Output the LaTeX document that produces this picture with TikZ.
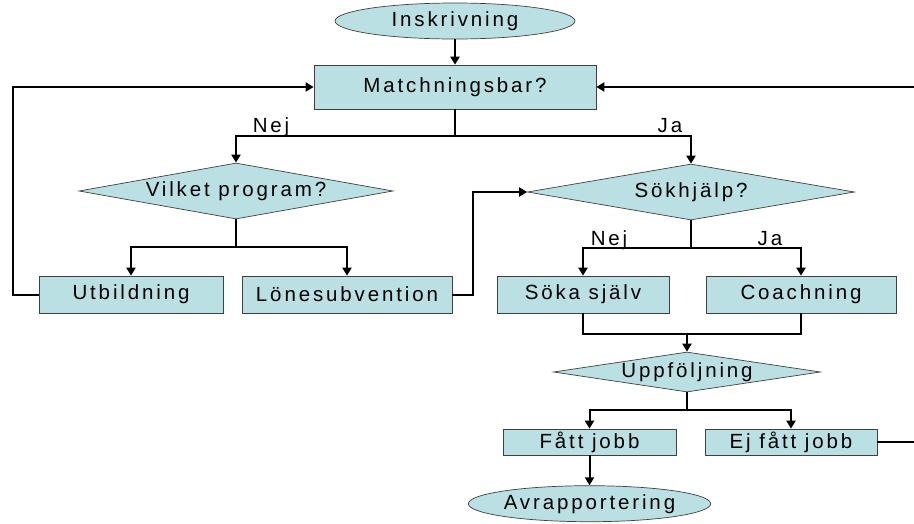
\documentclass[tikz,border=0pt]{standalone}
\usepackage{fontspec}
\usepackage{xcolor}
\usepackage{tikz}
\usetikzlibrary{shapes.geometric, arrows.meta, positioning}
\newfontfamily\pptfont{Liberation Sans}[LetterSpace=14]
\definecolor{boxfill}{RGB}{186,224,227}

\begin{document}
\begin{tikzpicture}[
  x=1pt, y=-1pt,
  every node/.style={font=\pptfont\fontsize{20.5}{24}\selectfont},
  box/.style={rectangle, draw=black!75, line width=0.7pt, fill=boxfill, minimum height=37pt, inner sep=2pt},
  smallbox/.style={rectangle, draw=black!75, line width=0.7pt, fill=boxfill, minimum height=26pt, inner sep=1pt},
  decision/.style={diamond, draw=black!75, line width=0.7pt, fill=boxfill, inner sep=0pt, aspect=5.5},
  terminal/.style={ellipse, draw=black!75, line width=0.7pt, fill=boxfill, minimum width=240pt, minimum height=36pt, inner sep=0pt},
  arrow/.style={line width=2pt, -{Stealth[length=8pt, width=9pt, inset=0pt]}},
  link/.style={line width=2pt}
]
  \useasboundingbox (0,0) rectangle (914,523);

  \node[terminal] (insk) at (455,21) {Inskrivning};
  \node[box, minimum width=282pt, minimum height=44pt] (match) at (455,87) {Matchningsbar?};
  \node[decision, minimum width=314pt, minimum height=56pt] (vilket) at (236,191) {Vilket program?};
  \node[decision, minimum width=327pt, minimum height=56pt] (sok) at (691,192) {Sökhjälp?};
  \node[box, minimum width=184pt] (utb) at (131,294.5) {Utbildning};
  \node[box, minimum width=210pt] (lone) at (347,294.5) {Lönesubvention};
  \node[box, minimum width=172pt] (soka) at (583,294.5) {Söka själv};
  \node[box, minimum width=190pt] (coach) at (801,294.5) {Coachning};
  \node[decision, minimum width=267pt, minimum height=40pt, aspect=6.7] (uppf) at (687,372) {Uppföljning};
  \node[smallbox, minimum width=173pt] (fatt) at (589.5,442) {Fått jobb};
  \node[smallbox, minimum width=172pt] (ejfatt) at (791,442) {Ej fått jobb};
  \node[terminal, below=30pt of fatt] (avrap) {Avrapportering};

  % svar
  \node[anchor=base] (nej1) at (271,132) {Nej};
  \node[anchor=base] (ja1) at (670,132) {Ja};
  \node[anchor=base] (nej2) at (609,245) {Nej};
  \node[anchor=base] (ja2) at (770,245) {Ja};

  \coordinate (merge) at (uppf.north |- 0,334);

  \draw[arrow] (insk) -- (match);
  \draw[arrow] (match.south) -- ++(0,27) -| (vilket.north);
  \draw[arrow] (match.south) -- ++(0,27) -| (sok.north);
  \draw[arrow] (vilket.south) -- ++(0,28) -| (utb.north);
  \draw[arrow] (vilket.south) -- ++(0,28) -| (lone.north);
  \draw[arrow] (utb.west) -- ++(-26,0) |- (match.west);
  \draw[arrow] (lone.east) -- ++(21,0) |- (sok.west);
  \draw[arrow] (sok.south) -- ++(0,28) -| (soka.north);
  \draw[arrow] (sok.south) -- ++(0,28) -| (coach.north);
  \draw[link] (soka.south) |- (merge) -| (coach.south);
  \draw[arrow] (merge) -- (uppf.north);
  \draw[arrow] (uppf.south) -- ++(0,18) -| (fatt.north);
  \draw[arrow] (uppf.south) -- ++(0,18) -| (ejfatt.north);
  \draw[arrow] (fatt) -- (avrap);
  \draw[arrow] (ejfatt.east) -- ++(41,0) |- (match.east);
\end{tikzpicture}
\end{document}
